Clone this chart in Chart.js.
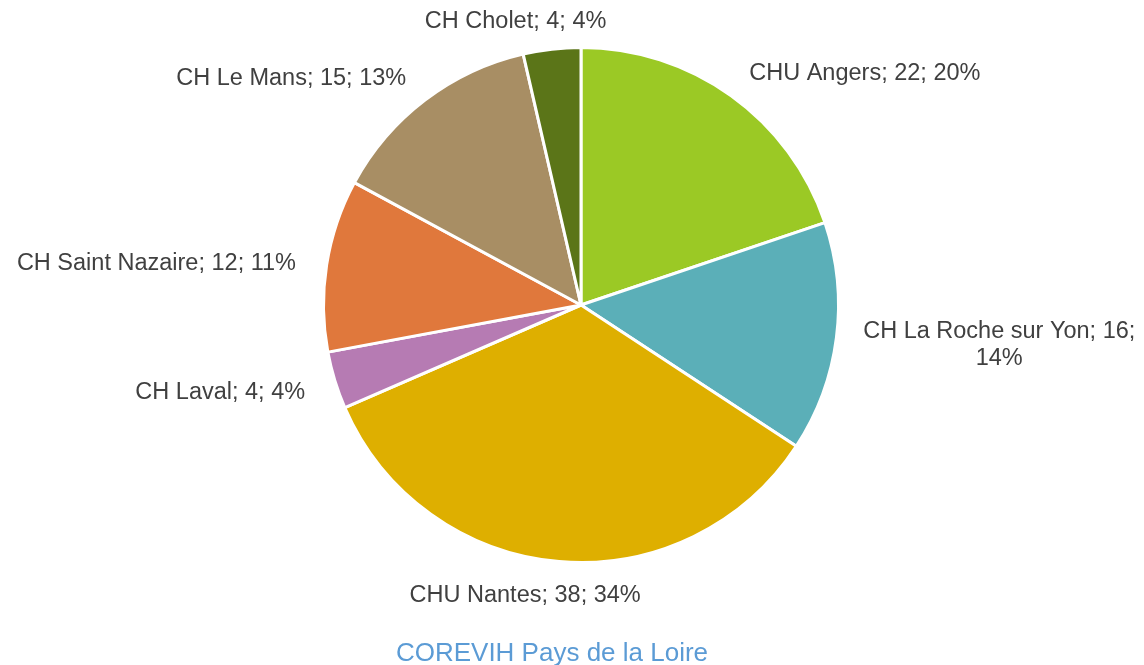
<!DOCTYPE html>
<html>
<head>
<meta charset="utf-8">
<script src="https://cdn.jsdelivr.net/npm/chart.js@4"></script>
<style>
html,body{margin:0;padding:0;background:#fff;}
#wrap{width:1144px;height:665px;position:relative;}
</style>
</head>
<body>
<div id="wrap"><canvas id="c" width="1144" height="665"></canvas></div>
<script>
const categories = ["CHU Angers", "CH La Roche sur Yon", "CHU Nantes", "CH Laval", "CH Saint Nazaire", "CH Le Mans", "CH Cholet"];
const values = [22, 16, 38, 4, 12, 15, 4];
const percents = [20, 14, 34, 4, 11, 13, 4];
const colors = ["#9BC925", "#5BAFB8", "#DEAF00", "#B67BB3", "#E0783C", "#A88E64", "#5B7518"];
const chartTitle = "COREVIH Pays de la Loire";

const labelFont = '23.5px "Liberation Sans", Arial, sans-serif';
const titleFont = '26px "Liberation Sans", Arial, sans-serif';

const labelPlugin = {
  id: 'outLabels',
  afterDatasetsDraw(chart) {
    const ctx = chart.ctx;
    const meta = chart.getDatasetMeta(0);
    ctx.save();
    ctx.font = labelFont;
    ctx.fillStyle = '#404040';
    ctx.textBaseline = 'middle';
    ctx.textAlign = 'left';
    const lineH = 27;
    meta.data.forEach((arc, i) => {
      const p = arc.getProps(['x','y','startAngle','endAngle','outerRadius'], true);
      const mid = (p.startAngle + p.endAngle) / 2;
      const r = p.outerRadius + 31;
      const px = p.x + Math.cos(mid) * r;
      const py = p.y + Math.sin(mid) * r + 3;
      const s = Math.cos(mid);
      let fx = 0.5 - 1.6 * s;
      fx = Math.max(0, Math.min(1, fx));
      const text = categories[i] + '; ' + values[i] + '; ' + percents[i] + '%';
      const full = ctx.measureText(text).width;
      let left = px - fx * full;
      let lines = [text];
      const maxW = chart.width - left - 2;
      if (full > maxW) {
        const words = text.split(' ');
        lines = [];
        let cur = '';
        words.forEach(w => {
          const test = cur ? cur + ' ' + w : w;
          if (ctx.measureText(test).width > maxW && cur) { lines.push(cur); cur = w; }
          else cur = test;
        });
        if (cur) lines.push(cur);
      }
      const bw = Math.max(...lines.map(l => ctx.measureText(l).width));
      left = px - fx * bw;
      if (lines.length > 1) left -= 4;
      const top = py - (lines.length - 1) * lineH / 2;
      lines.forEach((l, k) => {
        const lw = ctx.measureText(l).width;
        ctx.fillText(l, left + (bw - lw) / 2, top + k * lineH);
      });
    });
    ctx.font = titleFont;
    ctx.fillStyle = '#5B9BD5';
    ctx.textAlign = 'center';
    ctx.fillText(chartTitle, 552, 654);
    ctx.restore();
  }
};

new Chart(document.getElementById('c'), {
  type: 'pie',
  data: {
    labels: categories,
    datasets: [{
      data: values,
      backgroundColor: colors,
      borderColor: '#ffffff',
      borderWidth: 3
    }]
  },
  options: {
    responsive: false,
    animation: false,
    layout: { padding: { top: 46, bottom: 101, left: 100, right: 82 } },
    plugins: {
      legend: { display: false },
      tooltip: { enabled: false },
      title: { display: false }
    }
  },
  plugins: [labelPlugin]
});
</script>
</body>
</html>
